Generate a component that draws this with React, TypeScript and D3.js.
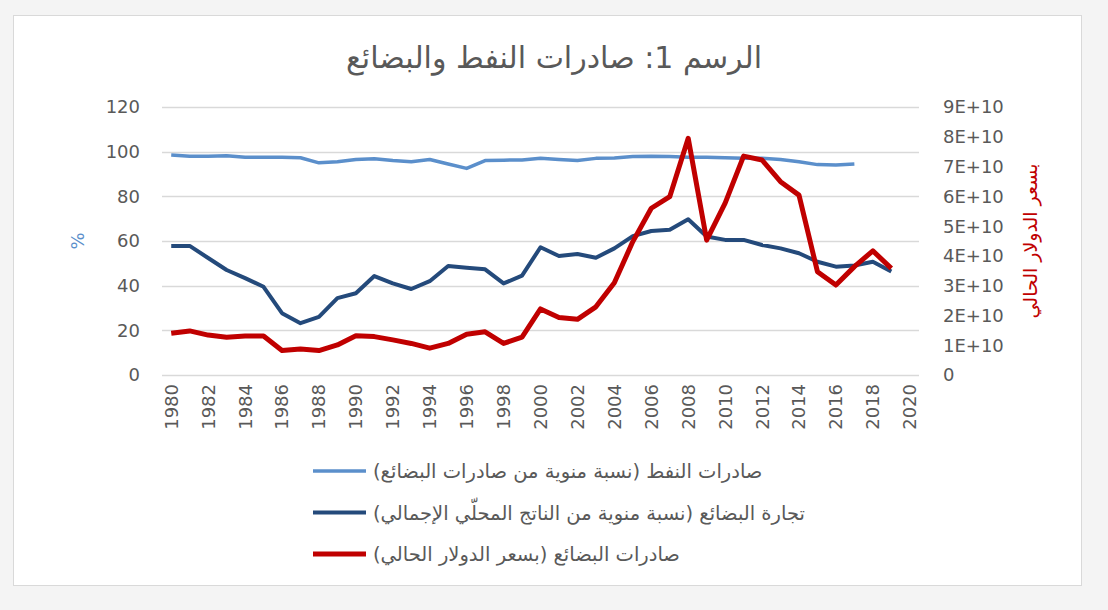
import { useEffect, useRef } from "react";
import * as d3 from "d3";

const years = d3.range(1980, 2021);
const tickYears = years.filter((y) => y % 2 === 0);
const leftTicks = [0, 20, 40, 60, 80, 100, 120];
const rightTicks = d3.range(0, 10).map((d) => d * 1e10);
const rightTickLabels = ["0", "1E+10", "2E+10", "3E+10", "4E+10", "5E+10", "6E+10", "7E+10", "8E+10", "9E+10"];

// oil exports, % of merchandise exports (1980-2017)
const oilShare = [
  98.5, 98, 98, 98.2, 97.5, 97.5, 97.5, 97.3, 95, 95.5,
  96.5, 96.8, 96, 95.5, 96.5, 94.5, 92.5, 96, 96.2, 96.3,
  97, 96.5, 96, 97, 97.2, 97.8, 98, 97.8, 97.5, 97.5,
  97.3, 97, 97, 96.5, 95.5, 94.2, 94, 94.5,
];

// merchandise trade, % of GDP (1980-2019)
const tradeShare = [
  57.8, 57.8, 52.4, 47, 43.4, 39.5, 27.7, 23.2, 26, 34.4,
  36.6, 44.3, 41, 38.5, 42, 48.8, 48, 47.3, 41, 44.5,
  57.2, 53.3, 54.2, 52.5, 56.7, 62.2, 64.5, 65, 69.7, 62,
  60.5, 60.5, 58.2, 56.7, 54.5, 50.7, 48.5, 49, 50.7, 46.3,
];

// merchandise exports, current US$ (1980-2019)
const exportsUsd = [
  1.40e10, 1.48e10, 1.34e10, 1.27e10, 1.31e10, 1.31e10, 0.82e10, 0.87e10, 0.82e10, 1.01e10,
  1.32e10, 1.29e10, 1.18e10, 1.06e10, 0.90e10, 1.06e10, 1.37e10, 1.45e10, 1.06e10, 1.27e10,
  2.22e10, 1.93e10, 1.87e10, 2.29e10, 3.10e10, 4.48e10, 5.6e10, 5.99e10, 7.95e10, 4.53e10,
  5.77e10, 7.35e10, 7.22e10, 6.49e10, 6.04e10, 3.47e10, 3.02e10, 3.64e10, 4.17e10, 3.58e10,
];

const legendLabels = [
  "صادرات النفط (نسبة منوية من صادرات البضائع)",
  "تجارة البضائع (نسبة منوية من الناتج المحلّي الإجمالي)",
  "صادرات البضائع (بسعر الدولار الحالي)",
];

const LIGHT = "#5b8fcb";
const DARK = "#244a7b";
const RED = "#c00000";
const GREY = "#595959";
const FONT = "DejaVu Sans, sans-serif";

const App = () => {
  const svgRef = useRef(null);

  useEffect(() => {
    const W = 1108;
    const H = 610;
    const svg = d3.select(svgRef.current).attr("width", W).attr("height", H);
    svg.selectAll("*").remove();

    svg.append("rect").attr("width", W).attr("height", H).attr("fill", "#f4f4f4");
    svg
      .append("rect")
      .attr("x", 13.5)
      .attr("y", 15.5)
      .attr("width", 1068)
      .attr("height", 570)
      .attr("fill", "#fff")
      .attr("stroke", "#d9d9d9");

    const x = d3.scaleBand().domain(years).range([162, 919]);
    const cx = (yr) => x(yr) + x.bandwidth() / 2;
    const yL = d3.scaleLinear().domain([0, 120]).range([375, 107]);
    const yR = d3.scaleLinear().domain([0, 9e10]).range([375, 107]);

    // title
    svg
      .append("text")
      .attr("x", 554)
      .attr("y", 68)
      .attr("text-anchor", "middle")
      .attr("direction", "rtl")
      .attr("font-family", FONT)
      .attr("font-size", 30)
      .attr("fill", GREY)
      .text("الرسم 1: صادرات النفط والبضائع");

    // grid
    svg
      .append("g")
      .selectAll("line")
      .data(leftTicks)
      .enter()
      .append("line")
      .attr("x1", 162)
      .attr("x2", 919)
      .attr("y1", (d) => Math.round(yL(d)) + 0.5)
      .attr("y2", (d) => Math.round(yL(d)) + 0.5)
      .attr("stroke", "#d9d9d9")
      .attr("stroke-width", 1.5);

    // left axis labels
    svg
      .append("g")
      .selectAll("text")
      .data(leftTicks)
      .enter()
      .append("text")
      .attr("x", 140)
      .attr("y", (d) => yL(d))
      .attr("dy", "0.36em")
      .attr("text-anchor", "end")
      .attr("font-family", FONT)
      .attr("font-size", 18)
      .attr("fill", GREY)
      .text((d) => d);

    // right axis labels
    svg
      .append("g")
      .selectAll("text")
      .data(rightTicks)
      .enter()
      .append("text")
      .attr("x", 943)
      .attr("y", (d) => yR(d))
      .attr("dy", "0.36em")
      .attr("font-family", FONT)
      .attr("font-size", 18)
      .attr("fill", GREY)
      .text((d, i) => rightTickLabels[i]);

    // x labels
    svg
      .append("g")
      .selectAll("text")
      .data(tickYears)
      .enter()
      .append("text")
      .attr("transform", (d) => `translate(${cx(d)},384) rotate(-90)`)
      .attr("dy", "0.36em")
      .attr("text-anchor", "end")
      .attr("font-family", FONT)
      .attr("font-size", 18)
      .attr("fill", GREY)
      .text((d) => d);

    // axis titles
    svg
      .append("text")
      .attr("transform", "translate(78,241) rotate(-90)")
      .attr("dy", "0.36em")
      .attr("text-anchor", "middle")
      .attr("font-family", FONT)
      .attr("font-size", 18)
      .attr("fill", LIGHT)
      .text("%");

    svg
      .append("text")
      .attr("transform", "translate(1030,241) rotate(-90)")
      .attr("dy", "0.36em")
      .attr("text-anchor", "middle")
      .attr("direction", "rtl")
      .attr("font-family", FONT)
      .attr("font-size", 19)
      .attr("fill", RED)
      .text("بسعر الدولار الحالي");

    const line = (scale) =>
      d3
        .line()
        .x((d, i) => cx(years[i]))
        .y((d) => scale(d));

    const series = [
      { data: oilShare, scale: yL, color: LIGHT, width: 3.5 },
      { data: tradeShare, scale: yL, color: DARK, width: 4 },
      { data: exportsUsd, scale: yR, color: RED, width: 5 },
    ];

    series.forEach((s) => {
      svg
        .append("path")
        .datum(s.data)
        .attr("d", line(s.scale))
        .attr("fill", "none")
        .attr("stroke", s.color)
        .attr("stroke-width", s.width)
        .attr("stroke-linejoin", "round");
    });

    // legend
    const leg = svg
      .append("g")
      .selectAll("g")
      .data(legendLabels)
      .enter()
      .append("g")
      .attr("transform", (d, i) => `translate(313,${471 + i * 41.5})`);

    leg
      .append("line")
      .attr("x1", 0)
      .attr("x2", 53)
      .attr("stroke", (d, i) => series[i].color)
      .attr("stroke-width", (d, i) => series[i].width);

    leg
      .append("text")
      .attr("x", 60)
      .attr("dy", "0.36em")
      .attr("direction", "rtl")
      .attr("text-anchor", "end")
      .attr("font-family", FONT)
      .attr("font-size", 19.5)
      .attr("fill", GREY)
      .text((d) => d);
  }, []);

  return <svg ref={svgRef} style={{ position: "fixed", left: 0, top: 0 }} />;
};

export default App;
